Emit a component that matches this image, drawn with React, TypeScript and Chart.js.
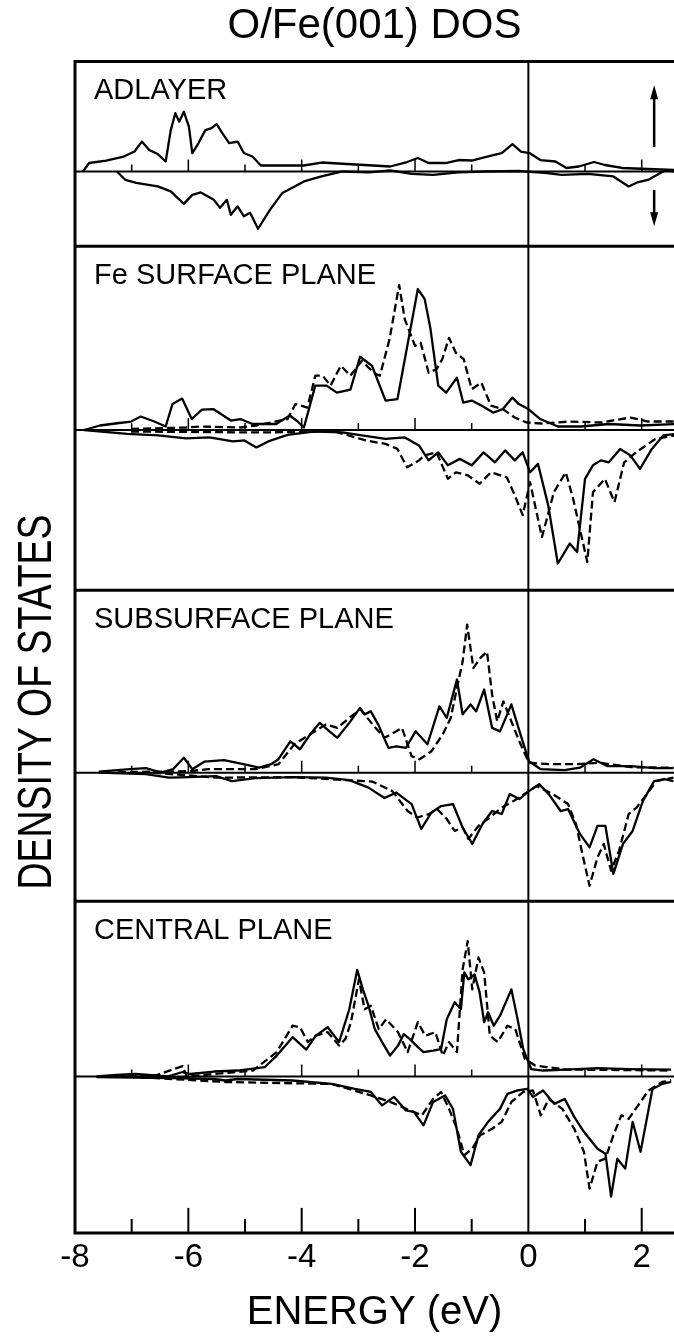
import React, { useEffect, useRef } from 'react';
import { Chart, registerables } from 'chart.js';

Chart.register(...registerables);

type Pt = [number, number];

const FONT = "'Liberation Sans', Arial, sans-serif";

const titleText = 'O/Fe(001) DOS';
const xTitle = 'ENERGY (eV)';
const yTitle = 'DENSITY OF STATES';

const energyMin = -8;
const energyMax = 2.57;
const tickEnergies = [-8, -7, -6, -5, -4, -3, -2, -1, 0, 1, 2];
const tickLabels = ['-8', '', '-6', '', '-4', '', '-2', '', '0', '', '2'];

const panelNames = ['ADLAYER', 'Fe SURFACE PLANE', 'SUBSURFACE PLANE', 'CENTRAL PLANE'];
const panelAxisIds = ['yAd', 'ySurf', 'ySub', 'yCen'];
// [min, max] of the DOS axis of each plane (spin down below zero, spin up above)
const panelRanges: Pt[] = [[-1.5, 2.21], [-3.22, 3.69], [-2.58, 3.66], [-3.14, 3.52]];

// Spin arrows in the adlayer panel: energy, and DOS extents of the up / down arrows
const spinArrowEnergy = 2.22;
const spinUpArrow: Pt = [0.49, 1.73];
const spinDownArrow: Pt = [-0.37, -1.1];

// ---- Adlayer (O) ----
const adUp: Pt[] = [
  [-7.86, 0], [-7.75, 0.17], [-7.45, 0.22], [-7.14, 0.3], [-6.95, 0.4], [-6.82, 0.6], [-6.69, 0.43],
  [-6.54, 0.35], [-6.4, 0.2], [-6.31, 0.83], [-6.23, 1.17], [-6.16, 1.0], [-6.08, 1.2], [-5.99, 0.9],
  [-5.93, 0.37], [-5.82, 0.57], [-5.7, 0.83], [-5.59, 0.87], [-5.5, 0.95], [-5.4, 0.77], [-5.28, 0.57],
  [-5.13, 0.6], [-5.02, 0.37], [-4.87, 0.3], [-4.72, 0.12], [-4.41, 0.12], [-3.96, 0.12], [-3.65, 0.18],
  [-3.2, 0.15], [-2.74, 0.12], [-2.44, 0.1], [-2.14, 0.19], [-1.95, 0.27], [-1.76, 0.17], [-1.46, 0.17],
  [-1.23, 0.23], [-1.0, 0.22], [-0.62, 0.33], [-0.47, 0.37], [-0.28, 0.55], [-0.13, 0.4], [0.02, 0.37],
  [0.21, 0.23], [0.48, 0.2], [0.67, 0.07], [0.89, 0.1], [1.16, 0.19], [1.35, 0.13], [1.65, 0.07],
  [2.11, 0.05], [2.62, 0.03],
];
const adDown: Pt[] = [
  [-7.26, 0], [-7.11, -0.17], [-6.92, -0.23], [-6.54, -0.3], [-6.31, -0.4], [-6.08, -0.65], [-5.93, -0.47],
  [-5.78, -0.42], [-5.55, -0.57], [-5.44, -0.73], [-5.32, -0.57], [-5.25, -0.87], [-5.13, -0.7],
  [-5.02, -0.9], [-4.91, -0.83], [-4.77, -1.15], [-4.56, -0.77], [-4.34, -0.43], [-3.96, -0.2],
  [-3.65, -0.1], [-3.28, 0], [-2.82, -0.02], [-2.44, 0.02], [-2.06, -0.05], [-1.68, -0.07], [-1.23, -0.02],
  [-0.77, 0], [-0.17, 0.01], [0.29, -0.03], [0.59, -0.07], [1.05, -0.05], [1.5, -0.1], [1.77, -0.3],
  [1.92, -0.22], [2.11, -0.17], [2.41, 0.02], [2.62, 0],
];

// ---- Fe surface plane: solid = with O adlayer, dashed = clean surface ----
const surfUpSolid: Pt[] = [
  [-7.84, 0], [-7.56, 0.09], [-7.22, 0.14], [-7.01, 0.17], [-6.84, 0.27], [-6.6, 0.17], [-6.4, 0.07],
  [-6.28, 0.52], [-6.11, 0.63], [-5.94, 0.22], [-5.76, 0.41], [-5.56, 0.42], [-5.25, 0.19], [-5.08, 0.22],
  [-4.87, 0.12], [-4.45, 0.12], [-4.21, 0.29], [-4.07, 0.17], [-3.96, 0.05], [-3.76, 0.89], [-3.56, 0.89],
  [-3.38, 0.75], [-3.14, 0.81], [-2.97, 1.47], [-2.76, 1.29], [-2.52, 0.59], [-2.31, 0.62], [-2.18, 1.42],
  [-1.95, 2.83], [-1.83, 2.63], [-1.73, 2.05], [-1.59, 0.89], [-1.45, 0.75], [-1.26, 1.05], [-1.15, 0.55],
  [-1.0, 0.59], [-0.83, 0.49], [-0.62, 0.35], [-0.45, 0.42], [-0.28, 0.65], [-0.17, 0.52], [0, 0.42],
  [0.21, 0.22], [0.52, 0.07], [0.93, 0.07], [1.42, 0.12], [1.97, 0.09], [2.58, 0.12],
];
const surfUpDashed: Pt[] = [
  [-7.01, 0.02], [-6.04, 0.05], [-5.76, 0.07], [-5.08, 0.05], [-4.8, 0.09], [-4.25, 0.22], [-4.11, 0.52],
  [-3.9, 0.45], [-3.76, 1.09], [-3.63, 1.09], [-3.49, 0.89], [-3.31, 1.29], [-3.14, 1.09], [-2.94, 1.39],
  [-2.73, 1.15], [-2.62, 1.09], [-2.45, 1.82], [-2.28, 2.91], [-2.18, 2.22], [-2.0, 1.69], [-1.9, 1.75],
  [-1.76, 1.15], [-1.62, 1.22], [-1.52, 1.42], [-1.4, 1.85], [-1.28, 1.55], [-1.14, 1.42], [-1.0, 0.82],
  [-0.83, 0.95], [-0.66, 0.49], [-0.45, 0.42], [-0.24, 0.25], [-0.03, 0.15], [0.24, 0.13], [0.73, 0.17],
  [1.28, 0.15], [1.8, 0.25], [2.11, 0.17], [2.58, 0.17],
];
const surfDownSolid: Pt[] = [
  [-7.84, 0], [-7.08, -0.08], [-6.53, -0.11], [-6.04, -0.17], [-5.63, -0.15], [-5.21, -0.23], [-5.01, -0.21],
  [-4.8, -0.35], [-4.59, -0.23], [-4.25, -0.1], [-3.76, -0.03], [-3.28, -0.05], [-2.94, -0.11], [-2.52, -0.18],
  [-2.18, -0.15], [-1.93, -0.31], [-1.76, -0.61], [-1.59, -0.45], [-1.42, -0.71], [-1.21, -0.58], [-1.0, -0.71],
  [-0.79, -0.45], [-0.59, -0.65], [-0.41, -0.41], [-0.24, -0.61], [-0.1, -0.45], [0.03, -0.85], [0.17, -0.68],
  [0.35, -1.51], [0.52, -2.68], [0.73, -2.28], [0.86, -2.45], [1.0, -0.98], [1.14, -0.71], [1.28, -0.61],
  [1.42, -0.65], [1.62, -0.38], [1.8, -0.51], [1.97, -0.78], [2.18, -0.38], [2.38, -0.11], [2.58, -0.08],
];
const surfDownDashed: Pt[] = [
  [-7.01, -0.03], [-4.8, -0.05], [-3.42, -0.03], [-2.87, -0.21], [-2.52, -0.28], [-2.31, -0.38], [-2.14, -0.75],
  [-1.93, -0.61], [-1.83, -0.51], [-1.62, -0.45], [-1.42, -0.98], [-1.28, -0.85], [-1.07, -0.91], [-0.86, -1.08],
  [-0.66, -0.85], [-0.38, -0.95], [-0.24, -1.31], [-0.1, -1.71], [0.03, -1.05], [0.24, -2.15], [0.45, -1.25],
  [0.66, -0.85], [0.79, -1.38], [1.04, -2.65], [1.14, -1.25], [1.35, -0.98], [1.52, -1.45], [1.69, -0.65],
  [1.9, -0.45], [2.24, -0.18], [2.58, -0.11],
];

// ---- Subsurface plane ----
const subUpSolid: Pt[] = [
  [-7.58, 0.02], [-7.03, 0.07], [-6.75, 0.09], [-6.48, 0], [-6.27, 0.07], [-6.08, 0.3], [-5.93, 0.07],
  [-5.72, 0.22], [-5.37, 0.25], [-5.03, 0.17], [-4.75, 0.1], [-4.54, 0.17], [-4.41, 0.27], [-4.2, 0.63],
  [-4.03, 0.47], [-3.85, 0.77], [-3.68, 1.0], [-3.51, 0.83], [-3.37, 0.7], [-3.16, 1.0], [-2.97, 1.3],
  [-2.89, 1.17], [-2.78, 1.23], [-2.65, 0.97], [-2.47, 0.5], [-2.33, 0.53], [-2.16, 0.5], [-1.99, 0.83],
  [-1.78, 0.57], [-1.57, 1.33], [-1.44, 1.1], [-1.26, 1.87], [-1.16, 1.17], [-1.02, 1.37], [-0.92, 1.23],
  [-0.78, 1.67], [-0.64, 0.9], [-0.5, 0.83], [-0.3, 1.37], [-0.12, 0.7], [0.01, 0.23], [0.22, 0.07],
  [0.64, 0.05], [0.91, 0.1], [1.15, 0.27], [1.4, 0.13], [1.81, 0.13], [2.22, 0.09], [2.56, 0.09],
];
const subUpDashed: Pt[] = [
  [-7.24, 0.01], [-5.99, 0.03], [-5.65, 0.07], [-4.82, 0.07], [-4.41, 0.17], [-4.13, 0.57], [-3.85, 0.77],
  [-3.57, 0.97], [-3.37, 0.9], [-3.16, 1.1], [-2.96, 1.27], [-2.75, 0.97], [-2.54, 0.7], [-2.33, 0.83],
  [-2.23, 0.9], [-2.06, 0.33], [-1.92, 0.27], [-1.71, 0.43], [-1.51, 0.77], [-1.37, 1.1], [-1.26, 1.7],
  [-1.16, 2.23], [-1.08, 2.97], [-0.97, 2.1], [-0.85, 2.3], [-0.73, 2.43], [-0.64, 1.57], [-0.55, 1.03],
  [-0.44, 1.43], [-0.3, 1.03], [-0.16, 0.63], [0.01, 0.2], [0.36, 0.17], [0.84, 0.17], [1.26, 0.2],
  [1.81, 0.11], [2.56, 0.1],
];
const subDownSolid: Pt[] = [
  [-7.58, 0], [-6.75, -0.03], [-6.34, -0.1], [-5.99, -0.09], [-5.51, -0.07], [-5.23, -0.17], [-4.82, -0.11],
  [-4.13, -0.09], [-3.57, -0.1], [-3.16, -0.15], [-2.82, -0.3], [-2.54, -0.51], [-2.33, -0.4], [-2.06, -0.63],
  [-1.89, -1.13], [-1.71, -0.8], [-1.54, -0.67], [-1.33, -0.63], [-1.16, -1.1], [-0.99, -1.43], [-0.81, -1.03],
  [-0.64, -0.77], [-0.47, -0.83], [-0.33, -0.43], [-0.16, -0.53], [0.01, -0.37], [0.19, -0.23], [0.36, -0.43],
  [0.57, -0.77], [0.7, -0.73], [0.91, -1.23], [1.08, -1.5], [1.22, -1.07], [1.36, -1.07], [1.5, -2.03],
  [1.67, -1.43], [1.84, -1.17], [2.02, -0.57], [2.22, -0.17], [2.4, -0.13], [2.56, -0.17],
];
const subDownDashed: Pt[] = [
  [-6.62, 0], [-5.51, -0.1], [-4.13, -0.09], [-2.75, -0.18], [-2.4, -0.37], [-2.13, -0.77], [-1.96, -0.9],
  [-1.75, -0.83], [-1.61, -0.73], [-1.44, -0.93], [-1.3, -1.17], [-1.16, -1.1], [-1.06, -1.33], [-0.88, -1.07],
  [-0.68, -0.9], [-0.47, -0.7], [-0.26, -0.57], [0.01, -0.37], [0.15, -0.27], [0.43, -0.43], [0.7, -0.63],
  [0.84, -1.03], [0.98, -1.77], [1.08, -2.27], [1.22, -1.7], [1.33, -1.43], [1.46, -1.97], [1.6, -1.57],
  [1.77, -0.83], [1.91, -0.7], [2.09, -0.43], [2.26, -0.17], [2.56, -0.1],
];

// ---- Central plane ----
const cenUpSolid: Pt[] = [
  [-7.62, 0], [-7.27, 0.03], [-6.93, 0.05], [-6.37, 0], [-6.1, 0.09], [-5.96, 0.05], [-5.55, 0.1],
  [-5.13, 0.12], [-4.65, 0.19], [-4.44, 0.42], [-4.16, 0.79], [-3.92, 0.54], [-3.75, 0.82], [-3.54, 0.99],
  [-3.34, 0.69], [-3.16, 1.35], [-3.02, 2.14], [-2.92, 1.75], [-2.82, 1.42], [-2.71, 0.95], [-2.58, 0.69],
  [-2.44, 0.42], [-2.3, 0.62], [-2.2, 0.85], [-2.09, 0.75], [-1.95, 0.59], [-1.85, 0.49], [-1.68, 0.52],
  [-1.54, 0.55], [-1.44, 1.15], [-1.3, 1.49], [-1.19, 1.35], [-1.13, 2.09], [-1.06, 1.95], [-0.95, 2.05],
  [-0.86, 1.69], [-0.78, 1.09], [-0.71, 1.29], [-0.61, 1.02], [-0.5, 1.22], [-0.3, 1.75], [-0.19, 1.15],
  [-0.09, 0.55], [0.05, 0.15], [0.26, 0.12], [0.67, 0.14], [1.22, 0.17], [1.77, 0.15], [2.52, 0.14],
];
const cenUpDashed: Pt[] = [
  [-7.27, 0.02], [-6.58, 0.02], [-6.1, 0.21], [-6.03, 0], [-4.86, 0.12], [-4.44, 0.49], [-4.16, 1.02],
  [-4.03, 0.99], [-3.89, 0.69], [-3.75, 0.82], [-3.54, 0.89], [-3.34, 0.62], [-3.23, 0.75], [-3.13, 1.09],
  [-2.99, 1.95], [-2.89, 1.35], [-2.78, 1.42], [-2.64, 0.95], [-2.51, 1.15], [-2.3, 0.89], [-2.13, 0.49],
  [-1.95, 1.09], [-1.82, 0.82], [-1.64, 0.89], [-1.51, 0.42], [-1.4, 0.69], [-1.26, 0.49], [-1.16, 2.15],
  [-1.07, 2.72], [-0.99, 1.75], [-0.88, 2.39], [-0.78, 2.09], [-0.68, 0.82], [-0.54, 0.69], [-0.37, 1.02],
  [-0.23, 0.95], [-0.06, 0.35], [0.12, 0.22], [0.32, 0.19], [0.67, 0.14], [2.52, 0.12],
];
const cenDownSolid: Pt[] = [
  [-7.62, -0.01], [-6.24, -0.03], [-5.55, -0.05], [-5.34, -0.08], [-5.13, -0.05], [-4.16, -0.08],
  [-3.47, -0.15], [-3.06, -0.25], [-2.78, -0.31], [-2.58, -0.58], [-2.37, -0.41], [-2.16, -0.68],
  [-2.02, -0.71], [-1.85, -0.98], [-1.68, -0.51], [-1.47, -0.38], [-1.33, -0.65], [-1.19, -1.51],
  [-1.02, -1.78], [-0.88, -1.18], [-0.71, -0.91], [-0.5, -0.65], [-0.37, -0.35], [-0.19, -0.28],
  [-0.02, -0.25], [0.08, -0.41], [0.26, -0.28], [0.46, -0.55], [0.64, -0.45], [0.81, -0.81], [0.98, -1.11],
  [1.22, -1.45], [1.36, -1.55], [1.46, -2.41], [1.57, -1.65], [1.71, -1.85], [1.84, -0.91], [1.98, -1.51],
  [2.19, -0.25], [2.36, -0.15], [2.52, -0.11],
];
const cenDownDashed: Pt[] = [
  [-7.27, 0.01], [-5.34, -0.11], [-3.47, -0.15], [-2.78, -0.38], [-2.44, -0.51], [-2.09, -0.68],
  [-1.88, -0.78], [-1.68, -0.45], [-1.54, -0.31], [-1.4, -0.65], [-1.26, -1.05], [-1.13, -1.58],
  [-0.99, -1.45], [-0.85, -1.18], [-0.64, -1.05], [-0.47, -0.91], [-0.3, -0.51], [-0.09, -0.31],
  [0.08, -0.28], [0.22, -0.78], [0.36, -0.45], [0.6, -0.65], [0.81, -1.05], [0.98, -1.51], [1.08, -2.25],
  [1.22, -1.71], [1.36, -1.65], [1.5, -1.18], [1.64, -0.78], [1.77, -0.85], [1.98, -0.51], [2.12, -0.28],
  [2.36, -0.11], [2.52, -0.08],
];

const curve = (label: string, points: Pt[], axis: string, dashed: boolean) => ({
  label,
  data: points.map(([x, y]) => ({ x, y })),
  yAxisID: axis,
  borderColor: '#000',
  borderWidth: 2.3,
  borderDash: dashed ? [8, 4] : [],
  borderJoinStyle: 'round',
  pointRadius: 0,
  fill: false,
  tension: 0,
});

const panelFrame = {
  id: 'panelFrame',
  afterDatasetsDraw(chart: any) {
    const { ctx, chartArea } = chart;
    const { left, right, top, bottom } = chartArea;
    const xs = chart.scales.x;
    const ink = '#000';
    ctx.save();
    ctx.strokeStyle = ink;
    ctx.fillStyle = ink;
    ctx.lineCap = 'butt';

    const seg = (x1: number, y1: number, x2: number, y2: number, w: number) => {
      ctx.lineWidth = w;
      ctx.beginPath();
      ctx.moveTo(x1, y1);
      ctx.lineTo(x2, y2);
      ctx.stroke();
    };

    // outer frame (open on the right)
    ctx.lineWidth = 3;
    ctx.beginPath();
    ctx.moveTo(right, top);
    ctx.lineTo(left, top);
    ctx.lineTo(left, bottom);
    ctx.lineTo(right, bottom);
    ctx.stroke();

    // Fermi level
    const xF = xs.getPixelForValue(0);
    seg(xF, top, xF, bottom, 2);

    panelAxisIds.forEach((id, i) => {
      const ys = chart.scales[id];
      if (i > 0) seg(left, ys.top, right, ys.top, 3);
      const y0 = ys.getPixelForValue(0);
      seg(left, y0, right, y0, 2);
      // energy ticks along the zero line
      tickEnergies.forEach((e) => {
        if (e === energyMin || e === 0) return;
        const px = xs.getPixelForValue(e);
        seg(px, y0, px, y0 - (e % 2 === 0 ? 12 : 7), 1.5);
      });
      // plane name
      ctx.font = `29px ${FONT}`;
      ctx.textAlign = 'left';
      ctx.textBaseline = 'alphabetic';
      ctx.fillText(panelNames[i], left + 19, ys.top + 38);
    });

    // energy ticks on the bottom axis
    tickEnergies.forEach((e) => {
      if (e === energyMin || e === 0) return;
      const px = xs.getPixelForValue(e);
      seg(px, bottom, px, bottom - (e % 2 === 0 ? 25 : 14), 2);
    });

    // spin arrows in the adlayer panel
    const ya = chart.scales[panelAxisIds[0]];
    const ax = xs.getPixelForValue(spinArrowEnergy);
    const upA = ya.getPixelForValue(spinUpArrow[0]);
    const upB = ya.getPixelForValue(spinUpArrow[1]);
    seg(ax, upA, ax, upB + 10, 2.5);
    ctx.beginPath();
    ctx.moveTo(ax, upB);
    ctx.lineTo(ax - 4, upB + 14);
    ctx.lineTo(ax + 4, upB + 14);
    ctx.closePath();
    ctx.fill();
    const dnA = ya.getPixelForValue(spinDownArrow[0]);
    const dnB = ya.getPixelForValue(spinDownArrow[1]);
    seg(ax, dnA, ax, dnB - 10, 2.5);
    ctx.beginPath();
    ctx.moveTo(ax, dnB);
    ctx.lineTo(ax - 4, dnB - 14);
    ctx.lineTo(ax + 4, dnB - 14);
    ctx.closePath();
    ctx.fill();

    // vertical axis title, drawn in narrow lettering
    ctx.font = `48px ${FONT}`;
    const w = ctx.measureText(yTitle).width;
    ctx.translate(36, 702);
    ctx.rotate(-Math.PI / 2);
    ctx.scale(375 / w, 1);
    ctx.textAlign = 'center';
    ctx.textBaseline = 'middle';
    ctx.fillText(yTitle, 0, 2);
    ctx.restore();
  },
};

export default function App() {
  const canvasRef = useRef<HTMLCanvasElement | null>(null);

  useEffect(() => {
    const canvas = canvasRef.current;
    if (!canvas) return;

    const yScale = (i: number, weight: number) => ({
      type: 'linear',
      position: 'left',
      stack: 'planes',
      stackWeight: panelRanges[i][1] - panelRanges[i][0],
      weight,
      min: panelRanges[i][0],
      max: panelRanges[i][1],
      display: false,
    });

    const chart = new Chart(canvas, {
      type: 'line',
      data: {
        datasets: [
          curve('O up', adUp, 'yAd', false),
          curve('O down', adDown, 'yAd', false),
          curve('S up O/Fe', surfUpSolid, 'ySurf', false),
          curve('S up Fe', surfUpDashed, 'ySurf', true),
          curve('S down O/Fe', surfDownSolid, 'ySurf', false),
          curve('S down Fe', surfDownDashed, 'ySurf', true),
          curve('S-1 up O/Fe', subUpSolid, 'ySub', false),
          curve('S-1 up Fe', subUpDashed, 'ySub', true),
          curve('S-1 down O/Fe', subDownSolid, 'ySub', false),
          curve('S-1 down Fe', subDownDashed, 'ySub', true),
          curve('C up O/Fe', cenUpSolid, 'yCen', false),
          curve('C up Fe', cenUpDashed, 'yCen', true),
          curve('C down O/Fe', cenDownSolid, 'yCen', false),
          curve('C down Fe', cenDownDashed, 'yCen', true),
        ] as any,
      },
      options: {
        responsive: false,
        animation: false,
        events: [],
        layout: { padding: { left: 75, right: 0, top: 0, bottom: 0 } },
        plugins: {
          legend: { display: false },
          tooltip: { enabled: false },
          title: {
            display: true,
            text: titleText,
            color: '#000',
            fullSize: false,
            font: { family: FONT, size: 42, weight: 'normal' },
            padding: { top: 1, bottom: 10 },
          },
        },
        scales: {
          x: {
            type: 'linear',
            position: 'bottom',
            min: energyMin,
            max: energyMax,
            grid: { display: false, drawTicks: false },
            border: { display: false },
            ticks: {
              stepSize: 1,
              includeBounds: false,
              autoSkip: false,
              maxRotation: 0,
              padding: 5,
              color: '#000',
              font: { family: FONT, size: 33 },
              callback: (v: any) => {
                const i = tickEnergies.indexOf(Number(v));
                return i >= 0 ? tickLabels[i] : '';
              },
            },
            title: {
              display: true,
              text: xTitle,
              color: '#000',
              font: { family: FONT, size: 40 },
              padding: { top: 6, bottom: 1.5 },
            },
          },
          yCen: yScale(3, 1),
          ySub: yScale(2, 2),
          ySurf: yScale(1, 3),
          yAd: yScale(0, 4),
        } as any,
      },
      plugins: [panelFrame],
    });

    return () => chart.destroy();
  }, []);

  return (
    <div style={{ position: 'absolute', left: 0, top: 0, width: 674, height: 1338, background: '#fff' }}>
      <canvas ref={canvasRef} width={674} height={1338} style={{ display: 'block' }} />
    </div>
  );
}
